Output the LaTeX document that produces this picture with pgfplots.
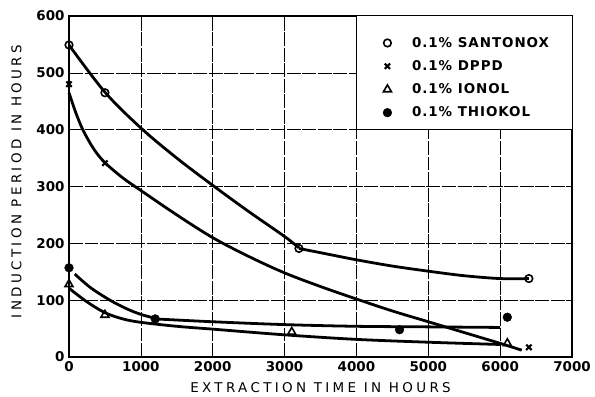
\documentclass[border=0pt]{standalone}
\usepackage{fontspec}
\setmainfont{DejaVu Sans}
\newfontfamily\spaced[LetterSpace=25]{DejaVu Sans}
\newfontfamily\legfont[LetterSpace=7]{DejaVu Sans}
\usepackage{pgfplots}
\pgfplotsset{compat=1.18}
\begin{document}
\begin{tikzpicture}
\begin{axis}[name=ax, scale only axis, width=503bp, height=341bp,
  xmin=0, xmax=7000, ymin=0, ymax=600,
  xtick={0,1000,...,7000}, ytick={0,100,...,600},
  grid=major,
  major grid style={black, line width=0.6pt, dash pattern=on 14pt off 1.6pt},
  axis line style={black, line width=1.3pt},
  major tick length=0pt,
  tick label style={font=\fontsize{13.5}{15}\selectfont\bfseries},
  /pgf/number format/assume math mode=true,
  /pgf/number format/set thousands separator={},
  scaled ticks=false,
  xticklabel style={yshift=-1pt},
  yticklabel style={xshift=-1pt},
  xlabel={\spaced EXTRACTION TIME IN HOURS},
  ylabel={\spaced INDUCTION PERIOD IN HOURS},
  label style={font=\fontsize{13.5}{15}\selectfont},
  xlabel style={yshift=-4.5pt},
  ylabel style={yshift=8pt, xshift=5pt},
  clip=false,
  legend image code/.code={\draw[mark repeat=2,mark phase=2,#1] plot coordinates {(0cm,0cm)(0.15cm,0cm)(0.3cm,0cm)}; \path[draw=none] (0cm,0cm) (0.95cm,0cm);},
  legend style={at={(rel axis cs:0.618,0.95)}, anchor=north west, draw=none, fill=none,
    font=\fontsize{13.5}{15}\selectfont\legfont\bfseries, row sep=7.8pt},
  legend cell align=left,
]
% legend panel
\fill[white] (axis cs:4000,400) rectangle (axis cs:7000,600);
\draw[black, line width=0.8pt] (axis cs:4000,600) -- (axis cs:4000,400) -- (axis cs:7000,400);

% curves
\addplot[black, line width=2.8pt, smooth, tension=0.55, forget plot] coordinates {
 (0,549) (500,466) (1000,403) (1500,350) (2000,302) (2500,256) (3000,212) (3200,192)};
\addplot[black, line width=2.8pt, smooth, tension=0.55, forget plot] coordinates {
 (3200,191) (3600,181) (4000,171) (4500,160) (5000,151) (5500,143) (6000,138) (6400,138)};
\addplot[black, line width=2.8pt, smooth, tension=0.55, forget plot] coordinates {
 (0,465) (100,428) (200,398) (350,365) (500,342) (750,315) (1000,293) (1500,250) (2000,210)
 (2500,177) (3000,148) (3500,124) (4000,102) (4500,81) (5000,62) (5500,43) (6000,24) (6300,12)};
\addplot[black, line width=2.8pt, smooth, tension=0.55, forget plot] coordinates {
 (0,121) (250,97) (500,78) (750,67) (1000,61) (1500,54) (2000,49) (3000,39) (4000,31) (5000,26) (6000,22)};
\addplot[black, line width=2.8pt, smooth, tension=0.55, forget plot] coordinates {
 (80,146) (300,122) (570,100) (800,85) (1000,75) (1200,68)};
\addplot[black, line width=2.8pt, smooth, tension=0.55, forget plot] coordinates {
 (1200,67) (2000,62) (3000,57) (4000,54) (5000,53) (6000,52)};

% markers
\addplot[only marks, mark=o, mark size=3.8pt, mark options={fill=white, line width=1.6pt}, black] coordinates {
 (0,549) (500,465) (3200,191) (6400,138)};
\addlegendentry{0.1\% SANTONOX}
\addplot[only marks, mark=x, mark size=3.8pt, mark options={line width=2.1pt}, black] coordinates {
 (0,480) (500,341) (6400,17)};
\addlegendentry{0.1\% DPPD}
\addplot[only marks, mark=triangle, mark size=4.6pt, mark options={fill=white, line width=1.6pt}, black] coordinates {
 (0,128) (500,74) (3100,44) (6100,24)};
\addlegendentry{0.1\% IONOL}
\addplot[only marks, mark=*, mark size=4.4pt, black] coordinates {
 (0,157) (1200,67) (4600,48) (6100,70)};
\addlegendentry{0.1\% THIOKOL}
\end{axis}
\pgfresetboundingbox
\path ([shift={(-69bp,-40bp)}]ax.south west) rectangle ([shift={(23bp,16bp)}]ax.north east);
\end{tikzpicture}
\end{document}
